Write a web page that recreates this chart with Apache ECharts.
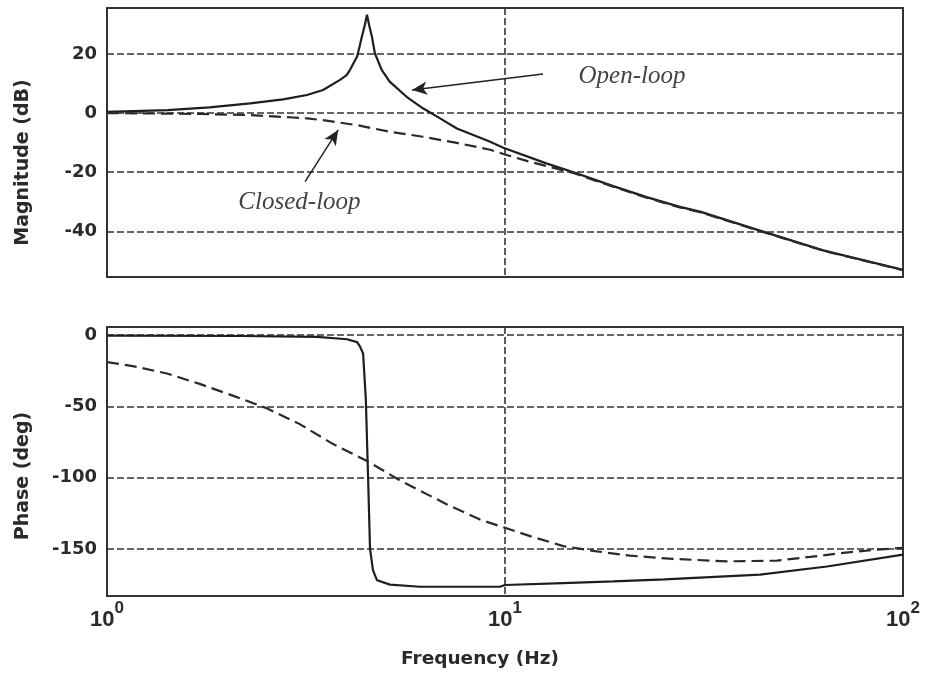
<!DOCTYPE html>
<html>
<head>
	<meta charset="utf-8" />
	<title>Bode plot</title>
	<script src="https://cdn.jsdelivr.net/npm/echarts@6/dist/echarts.min.js"></script>
	<style>
		html, body { margin: 0; padding: 0; background: #fff; }
		#chart { width: 925px; height: 679px; }
	</style>
</head>
<body>
	<div id="chart"></div>
<script type="text/javascript">
	// magnitude (dB)
	var openMagFreq = [1.00, 1.42, 1.81, 2.29, 2.77, 3.18, 3.49, 3.85, 4.00, 4.08, 4.25, 4.31, 4.37, 4.44, 4.50, 4.56, 4.63, 4.67, 4.71, 4.90, 5.13, 5.66, 6.22, 6.87, 7.57, 9.18, 9.90, 12.7, 14.8, 18.7, 22.7, 27.5, 30.9, 42.9, 63.0, 100];
	var openMag = [0.4, 1.0, 1.9, 3.3, 4.6, 6.1, 7.8, 11.2, 12.8, 14.6, 19.1, 22.4, 25.9, 29.5, 33.2, 29.5, 25.9, 23.0, 20.2, 14.6, 10.6, 5.5, 1.6, -1.8, -5.2, -9.7, -11.7, -17.0, -19.9, -24.7, -28.4, -31.7, -33.3, -39.4, -46.4, -53.0];

	var closedMagFreq = [1.00, 1.71, 2.29, 2.93, 3.18, 3.49, 4.25, 5.13, 6.22, 7.57, 9.18, 10.0, 11.5, 13.4, 14.8, 18.7, 22.7, 27.5, 30.9, 42.9, 63.0, 100];
	var closedMag = [0.0, -0.3, -0.7, -1.5, -1.8, -2.4, -4.1, -6.3, -8.0, -10.1, -12.4, -14.0, -16.4, -18.7, -20.2, -24.9, -28.6, -31.9, -33.5, -39.5, -46.5, -53.1];

	// phase (deg)
	var openPhaseFreq = [1.00, 2.16, 3.37, 4.01, 4.25, 4.32, 4.40, 4.47, 4.53, 4.58, 4.66, 4.77, 5.14, 6.11, 9.71, 10.0, 14.0, 18.7, 25.2, 43.7, 64.4, 100];
	var openPhase = [-0.5, -0.7, -1.3, -3.0, -5.0, -8.0, -13.0, -45.0, -101.0, -150.0, -165.0, -172.0, -175.0, -176.5, -176.5, -175.3, -174.0, -172.8, -171.3, -168.0, -162.3, -154.0];

	var closedPhaseFreq = [1.00, 1.16, 1.415, 1.71, 2.07, 2.52, 3.05, 3.70, 4.50, 5.45, 7.15, 8.65, 10.0, 11.56, 14.0, 17.0, 20.6, 26.4, 36.1, 48.2, 58.4, 70.7, 86.0, 100];
	var closedPhase = [-19.0, -21.8, -27.0, -34.3, -42.5, -51.4, -62.5, -76.5, -88.3, -102.0, -118.8, -129.4, -135.2, -141.0, -148.0, -151.7, -154.7, -157.0, -158.7, -158.2, -155.6, -152.8, -150.5, -149.3];

	var magTicks = [-40, -20, 0, 20];
	var phaseTicks = [-150, -100, -50, 0];

	// annotation arrows [from, to] as [Hz, dB]
	var openArrow = [[12.46, 13.2], [5.84, 7.8]];
	var closedArrow = [[3.145, -23.2], [3.81, -5.7]];
	var openLabelAt = [20.85, 12.5];
	var closedLabelAt = [3.045, -30.1];

	function pairs(xs, ys) {
		var out = [];
		for (var i = 0; i < xs.length; i++) {
			out.push([xs[i], ys[i]]);
		}
		return out;
	}

	var textColor = '#2a2a2a';
	var gridLine = { show: true, lineStyle: { color: '#333', width: 1.6, type: [7, 3] } };
	var boldFont = 'DejaVu Sans';

	function arrow(a) {
		return {
			silent: true,
			symbol: ['none', 'arrow'],
			symbolSize: [10, 15],
			label: { show: false },
			lineStyle: { color: '#222', width: 1.5, type: 'solid' },
			data: [[{ coord: a[0] }, { coord: a[1] }]]
		};
	}
	function note(text, at) {
		return {
			silent: true,
			symbol: 'circle',
			symbolSize: 0,
			label: {
				show: true,
				position: 'inside',
				formatter: text,
				fontFamily: 'Liberation Serif',
				fontStyle: 'italic',
				fontSize: 25,
				color: '#444'
			},
			data: [{ name: text, coord: at }]
		};
	}

	var logAxis = function(idx, showLabels) {
		var ax = {
			type: 'log',
			logBase: 10,
			gridIndex: idx,
			min: 1,
			max: 100,
			axisLine: { show: false },
			axisTick: { show: false },
			splitLine: gridLine,
			axisLabel: { show: false }
		};
		if (showLabels) {
			ax.axisLabel = {
				show: true,
				margin: 4,
				showMinLabel: true,
				showMaxLabel: true,
				formatter: function(v) {
					return '{b|10}{s|' + Math.round(Math.log10(v)) + '}';
				},
				rich: {
					b: { fontFamily: 'Liberation Sans', fontWeight: 'bold', fontSize: 22, lineHeight: 40, color: textColor },
					s: { fontFamily: 'Liberation Sans', fontWeight: 'bold', fontSize: 17, lineHeight: 17, verticalAlign: 'top', color: textColor }
				}
			};
			ax.name = 'Frequency (Hz)';
			ax.nameLocation = 'middle';
			ax.nameGap = 54;
			ax.nameTextStyle = { fontFamily: boldFont, fontWeight: 'bold', fontSize: 18.5, color: textColor, padding: [0, 50, 0, 0] };
		}
		return ax;
	};

	var myChart = echarts.init(document.getElementById('chart'));
	var option = {
		backgroundColor: '#fff',
		animation: false,
		grid: [
			{ left: 107, right: 22, top: 8, height: 269, show: true, borderColor: '#333', borderWidth: 2 },
			{ left: 107, right: 22, top: 327, height: 269, show: true, borderColor: '#333', borderWidth: 2 }
		],
		xAxis: [logAxis(0, false), logAxis(1, true)],
		yAxis: [
			{
				type: 'value',
				gridIndex: 0,
				min: -55.4,
				max: 35.5,
				axisLine: { show: false },
				axisTick: { show: false, customValues: magTicks },
				axisLabel: { customValues: magTicks, margin: 10, fontFamily: boldFont, fontWeight: 'bold', fontSize: 18, color: textColor },
				splitLine: gridLine,
				name: 'Magnitude (dB)',
				nameLocation: 'middle',
				nameGap: 74,
				nameTextStyle: { fontFamily: boldFont, fontWeight: 'bold', fontSize: 19, color: textColor, padding: [0, 40, 0, 0] }
			},
			{
				type: 'value',
				gridIndex: 1,
				min: -183,
				max: 5.6,
				axisLine: { show: false },
				axisTick: { show: false, customValues: phaseTicks },
				axisLabel: { customValues: phaseTicks, margin: 10, padding: [0, 0, 12, 0], fontFamily: boldFont, fontWeight: 'bold', fontSize: 18, color: textColor },
				splitLine: gridLine,
				name: 'Phase (deg)',
				nameLocation: 'middle',
				nameGap: 74,
				nameTextStyle: { fontFamily: boldFont, fontWeight: 'bold', fontSize: 19, color: textColor, padding: [0, 29, 0, 0] }
			}
		],
		series: [
			{
				name: 'Open-loop',
				type: 'line',
				xAxisIndex: 0,
				yAxisIndex: 0,
				showSymbol: false,
				lineStyle: { color: '#1e1e1e', width: 2.2 },
				data: pairs(openMagFreq, openMag),
				markLine: arrow(openArrow),
				markPoint: note('Open-loop', openLabelAt)
			},
			{
				name: 'Closed-loop',
				type: 'line',
				xAxisIndex: 0,
				yAxisIndex: 0,
				showSymbol: false,
				lineStyle: { color: '#2a2a2a', width: 2.2, type: [12, 6] },
				data: pairs(closedMagFreq, closedMag),
				markLine: arrow(closedArrow),
				markPoint: note('Closed-loop', closedLabelAt)
			},
			{
				type: 'line',
				xAxisIndex: 1,
				yAxisIndex: 1,
				showSymbol: false,
				lineStyle: { color: '#1e1e1e', width: 2.2 },
				data: pairs(openPhaseFreq, openPhase)
			},
			{
				type: 'line',
				xAxisIndex: 1,
				yAxisIndex: 1,
				showSymbol: false,
				lineStyle: { color: '#2a2a2a', width: 2.2, type: [12, 6] },
				data: pairs(closedPhaseFreq, closedPhase)
			}
		]
	};
	myChart.setOption(option);
</script>
</body>
</html>
